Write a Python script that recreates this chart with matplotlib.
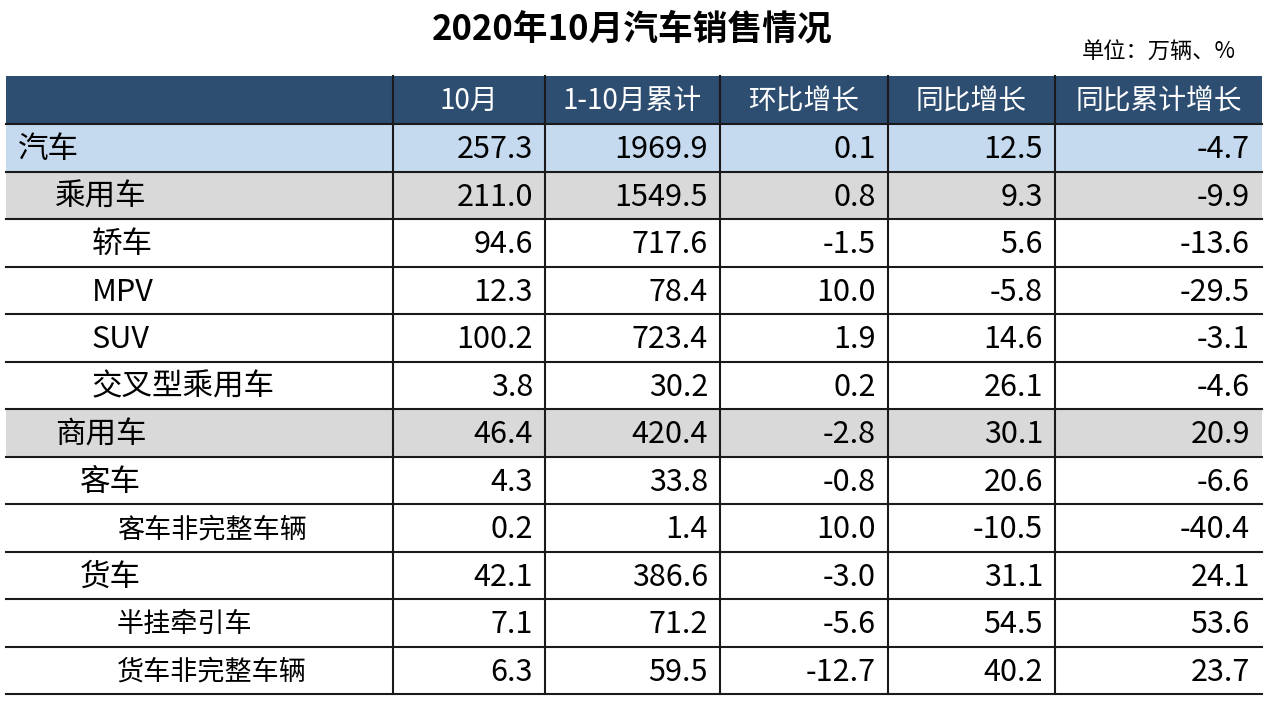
import matplotlib
matplotlib.use('Agg')
import matplotlib.pyplot as plt
from matplotlib.patches import Rectangle

plt.rcParams['font.family'] = ['Noto Sans CJK SC', 'DejaVu Sans']

title = '2020年10月汽车销售情况'
unit = '单位：万辆、%'
columns = ['10月', '1-10月累计', '环比增长', '同比增长', '同比累计增长']
rows = ['汽车', '乘用车', '轿车', 'MPV', 'SUV', '交叉型乘用车', '商用车',
        '客车', '客车非完整车辆', '货车', '半挂牵引车', '货车非完整车辆']
m10 = [257.3, 211.0, 94.6, 12.3, 100.2, 3.8, 46.4, 4.3, 0.2, 42.1, 7.1, 6.3]
cum = [1969.9, 1549.5, 717.6, 78.4, 723.4, 30.2, 420.4, 33.8, 1.4, 386.6, 71.2, 59.5]
mom = [0.1, 0.8, -1.5, 10.0, 1.9, 0.2, -2.8, -0.8, 10.0, -3.0, -5.6, -12.7]
yoy = [12.5, 9.3, 5.6, -5.8, 14.6, 26.1, 30.1, 20.6, -10.5, 31.1, 54.5, 40.2]
yoy_cum = [-4.7, -9.9, -13.6, -29.5, -3.1, -4.6, 20.9, -6.6, -40.4, 24.1, 53.6, 23.7]

# layout (pixels)
indent = [18, 55, 92, 92, 92, 92, 55, 80, 117, 80, 117, 117]
label_size = [22, 22, 22, 22, 22, 22, 22, 22, 19.5, 22, 19.5, 19.5]
col_x = [6, 393, 545, 720, 888, 1055, 1262]
top, head_h, row_h = 76, 48, 47.5
header_c = '#2d4d71'
fills = {0: '#c5daef', 1: '#d9d9d9', 6: '#d9d9d9'}

fig = plt.figure(figsize=(12.8, 7.08), dpi=100)
ax = fig.add_axes([0, 0, 1, 1])
ax.set_xlim(0, 1280)
ax.set_ylim(708, 0)
ax.axis('off')

ax.text(632, 29, title, ha='center', va='center', fontsize=25, fontweight='bold')
ax.text(1236, 52, unit, ha='right', va='center', fontsize=16)

# header
ax.add_patch(Rectangle((col_x[0], top), col_x[-1] - col_x[0], head_h, color=header_c, lw=0))
for i, c in enumerate(columns):
    ax.text((col_x[i + 1] + col_x[i + 2]) / 2, top + head_h / 2 + 1, c, ha='center', va='center',
            fontsize=20, color='white')

data = [m10, cum, mom, yoy, yoy_cum]
y0 = top + head_h
for r, name in enumerate(rows):
    y = y0 + r * row_h
    if r in fills:
        ax.add_patch(Rectangle((col_x[0], y), col_x[-1] - col_x[0], row_h, color=fills[r], lw=0))
    ax.text(indent[r], y + row_h / 2 + 2, name, ha='left', va='center', fontsize=label_size[r])
    for j, col in enumerate(data):
        ax.text(col_x[j + 2] - 12, y + row_h / 2 + 2, '%.1f' % col[r], ha='right', va='center', fontsize=22)
    ax.plot([col_x[0], col_x[-1]], [y + row_h, y + row_h], color='#1a1a1a', lw=1.5)

ax.plot([col_x[0], col_x[-1]], [y0, y0], color='#1a1a1a', lw=1.5)
bottom = y0 + len(rows) * row_h
for x in col_x[1:-1]:
    ax.plot([x, x], [top, bottom], color='#1a1a1a', lw=1.5)

fig.savefig('out.png', dpi=100)
